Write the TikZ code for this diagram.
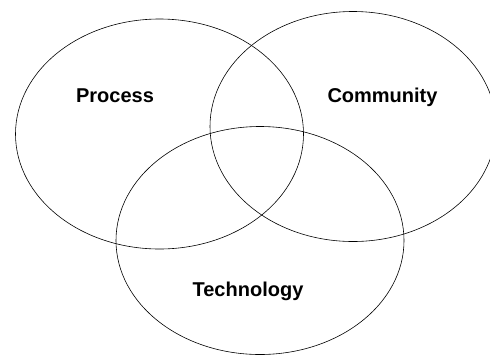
\documentclass[tikz,border=0pt]{standalone}
\usepackage{fontspec}
\setmainfont{Liberation Sans}
\usetikzlibrary{shapes.geometric}

\begin{document}
\begin{tikzpicture}[x=1bp,y=-1bp,
  set/.style={draw,ellipse,line width=0.6pt,inner sep=0pt,minimum width=288bp,minimum height=230bp},
  setname/.style={anchor=base,font=\fontsize{20bp}{24bp}\selectfont\bfseries}]
  \useasboundingbox (0,0) rectangle (490,355);
  \node[set] (proc) at (159.5,134) {};
  \node[set,minimum width=286bp] (comm) at (353,126.5) {};
  \node[set,minimum height=228bp] (tech) at (260,240.5) {};

  \node[setname] (procname) at (115,102.7) {Process};
  \node[setname] (commname) at (382.5,102.7) {Community};
  \node[setname] (techname) at (248,296.7) {Technology};
\end{tikzpicture}
\end{document}
